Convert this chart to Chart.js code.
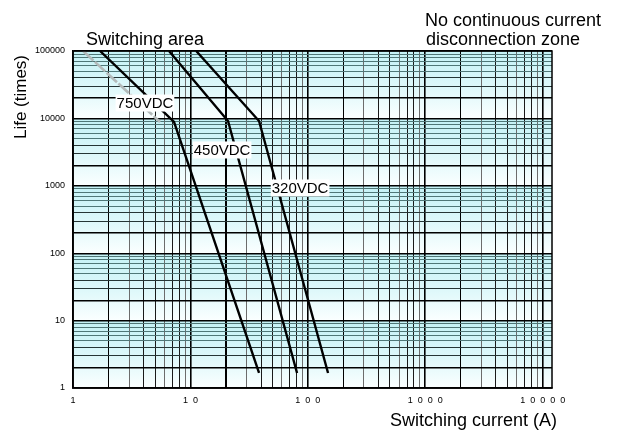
<!DOCTYPE html>
<html>
<head>
<meta charset="utf-8">
<title>Switching life</title>
<script src="https://cdn.jsdelivr.net/npm/chart.js@4.4.1/dist/chart.umd.min.js"></script>
<style>
  html, body { margin: 0; padding: 0; background: #ffffff; }
  #wrap { width: 623px; height: 432px; }
</style>
</head>
<body>
<div id="wrap"><canvas id="lifeChart" width="623" height="432"></canvas></div>
<script>
// ---- data ----
const xTickValues = [1, 10, 100, 1000, 10000];
const xTickLabels = ["1", "1  0", "1  0  0", "1  0  0  0", "1  0  0  0  0"];
const yTickValues = [1, 10, 100, 1000, 10000, 100000];
const yTickLabels = ["1", "10", "100", "1000", "10000", "100000"];

const seriesNames = ["750VDC", "450VDC", "320VDC"];
const current750 = [1.7, 7.25, 38.4];
const life750 = [100000, 8850, 1.67];
const current450 = [6.57, 20.9, 80.9];
const life450 = [100000, 9150, 1.67];
const current320 = [11.2, 38.4, 148.6];
const life320 = [100000, 9150, 1.67];

// faint trace left over in the original drawing
const currentFaint = [1.22, 5.51];
const lifeFaint = [100000, 8850];

// where each curve name sits (data coordinates)
const labelCurrent = [4.1, 18.6, 85.9];
const labelLife = [16900, 3400, 928];

const X_MIN = 1;
const X_MAX = 12000;
const Y_MIN = 1;
const Y_MAX = 100000;

const FONT = "'Liberation Sans', Arial, sans-serif";

function toPoints(xs, ys) {
  return xs.map((x, i) => ({ x, y: ys[i] }));
}

function logGridValues(min, max) {
  const values = [];
  for (let exp = Math.floor(Math.log10(min)); exp <= Math.ceil(Math.log10(max)); exp++) {
    for (let k = 1; k <= 9; k++) {
      const v = k * Math.pow(10, exp);
      if (v >= min && v <= max) values.push(v);
    }
  }
  return values;
}

function digitOf(value) {
  return Math.round(value / Math.pow(10, Math.floor(Math.log10(value) + 1e-9)));
}

const lifePlugin = {
  id: "lifePlugin",
  beforeDraw(chart) {
    const { ctx, chartArea: a, scales: { y } } = chart;
    ctx.save();
    ctx.fillStyle = "#ffffff";
    ctx.fillRect(0, 0, chart.width, chart.height);
    // each decade band fades from cyan at the top to white at the bottom
    for (let i = yTickValues.length - 1; i > 0; i--) {
      const top = y.getPixelForValue(yTickValues[i]);
      const bottom = y.getPixelForValue(yTickValues[i - 1]);
      const g = ctx.createLinearGradient(0, top, 0, bottom);
      g.addColorStop(0, "#c4f2f6");
      g.addColorStop(0.55, "#def8fa");
      g.addColorStop(1, "#fbffff");
      ctx.fillStyle = g;
      ctx.fillRect(a.left, top, a.right - a.left, bottom - top);
    }
    ctx.restore();
  },
  afterDatasetsDraw(chart) {
    const { ctx, scales: { x, y } } = chart;
    ctx.save();
    ctx.font = "15px " + FONT;
    ctx.textAlign = "center";
    ctx.textBaseline = "middle";
    seriesNames.forEach((name, i) => {
      const cx = x.getPixelForValue(labelCurrent[i]);
      const cy = y.getPixelForValue(labelLife[i]);
      const w = ctx.measureText(name).width;
      ctx.fillStyle = "#ffffff";
      ctx.fillRect(cx - w / 2 - 1, cy - 8.5, w + 2, 17);
      ctx.fillStyle = "#000000";
      ctx.fillText(name, cx, cy + 1);
    });
    ctx.restore();
  },
  afterDraw(chart) {
    const { ctx, chartArea: a } = chart;
    ctx.save();
    ctx.strokeStyle = "#000000";
    ctx.lineWidth = 1.5;
    ctx.strokeRect(a.left, a.top, a.right - a.left, a.bottom - a.top);

    ctx.fillStyle = "#000000";
    ctx.font = "18px " + FONT;
    ctx.textAlign = "left";
    ctx.textBaseline = "alphabetic";
    ctx.fillText("Switching area", 86, 45);
    ctx.fillText("No continuous current", 425, 26);
    ctx.fillText("disconnection zone", 426, 45);

    ctx.textAlign = "right";
    ctx.fillText("Switching current (A)", 557, 426);

    ctx.font = "17px " + FONT;
    ctx.translate(21, 97);
    ctx.rotate(-Math.PI / 2);
    ctx.textAlign = "center";
    ctx.textBaseline = "middle";
    ctx.fillText("Life (times)", 0, 0);
    ctx.restore();
  }
};

function xGridColor(c) {
  const d = digitOf(c.tick.value);
  if (d === 1 || d === 2) return "#000000";
  return [3, 6, 9].includes(d) ? "#6c6c6c" : "#1a1a1a";
}

function xGridWidth(c) {
  const d = digitOf(c.tick.value);
  if (d === 1) return 1.6;
  if (d === 2 && c.tick.value === 20) return 2;
  return 1;
}

function yGridColor(c) {
  const d = digitOf(c.tick.value);
  if (d === 1) return "#000000";
  if (d === 2) return "#000000";
  return d >= 5 ? "#4f7777" : "#253535";
}

function yGridWidth(c) {
  const d = digitOf(c.tick.value);
  return d === 1 || d === 2 ? 1.4 : 1;
}

const lineStyle = {
  borderColor: "#000000",
  borderWidth: 2.4,
  pointRadius: 0,
  fill: false,
  tension: 0
};

new Chart(document.getElementById("lifeChart").getContext("2d"), {
  type: "line",
  data: {
    datasets: [
      {
        label: "trace",
        data: toPoints(currentFaint, lifeFaint),
        borderColor: "#b3baba",
        borderWidth: 2.6,
        borderDash: [14, 2],
        pointRadius: 0,
        fill: false
      },
      { label: seriesNames[0], data: toPoints(current750, life750), ...lineStyle },
      { label: seriesNames[1], data: toPoints(current450, life450), ...lineStyle },
      { label: seriesNames[2], data: toPoints(current320, life320), ...lineStyle }
    ]
  },
  options: {
    responsive: false,
    animation: false,
    devicePixelRatio: 1,
    layout: {
      padding: { top: 51, right: 71, bottom: 0, left: 0 }
    },
    scales: {
      x: {
        type: "logarithmic",
        min: X_MIN,
        max: X_MAX,
        afterBuildTicks: (scale) => {
          scale.ticks = logGridValues(X_MIN, X_MAX).map((value) => ({ value }));
        },
        afterFit: (scale) => {
          scale.height = 44;
        },
        ticks: {
          autoSkip: false,
          maxRotation: 0,
          padding: 7,
          color: "#000000",
          font: { family: FONT, size: 9 },
          callback: (value) => {
            const i = xTickValues.indexOf(value);
            return i >= 0 ? xTickLabels[i] : "";
          }
        },
        grid: {
          color: xGridColor,
          lineWidth: xGridWidth,
          drawTicks: false
        },
        border: { color: "#000000", width: 1.5 }
      },
      y: {
        type: "logarithmic",
        min: Y_MIN,
        max: Y_MAX,
        afterBuildTicks: (scale) => {
          scale.ticks = logGridValues(Y_MIN, Y_MAX).map((value) => ({ value }));
        },
        afterFit: (scale) => {
          scale.width = 73;
        },
        ticks: {
          autoSkip: false,
          padding: 8,
          color: "#000000",
          font: { family: FONT, size: 9 },
          callback: (value) => {
            const i = yTickValues.indexOf(value);
            return i >= 0 ? yTickLabels[i] : "";
          }
        },
        grid: {
          color: yGridColor,
          lineWidth: yGridWidth,
          drawTicks: false
        },
        border: { color: "#000000", width: 1.5 }
      }
    },
    plugins: {
      legend: { display: false },
      tooltip: { enabled: false }
    }
  },
  plugins: [lifePlugin]
});
</script>
</body>
</html>
